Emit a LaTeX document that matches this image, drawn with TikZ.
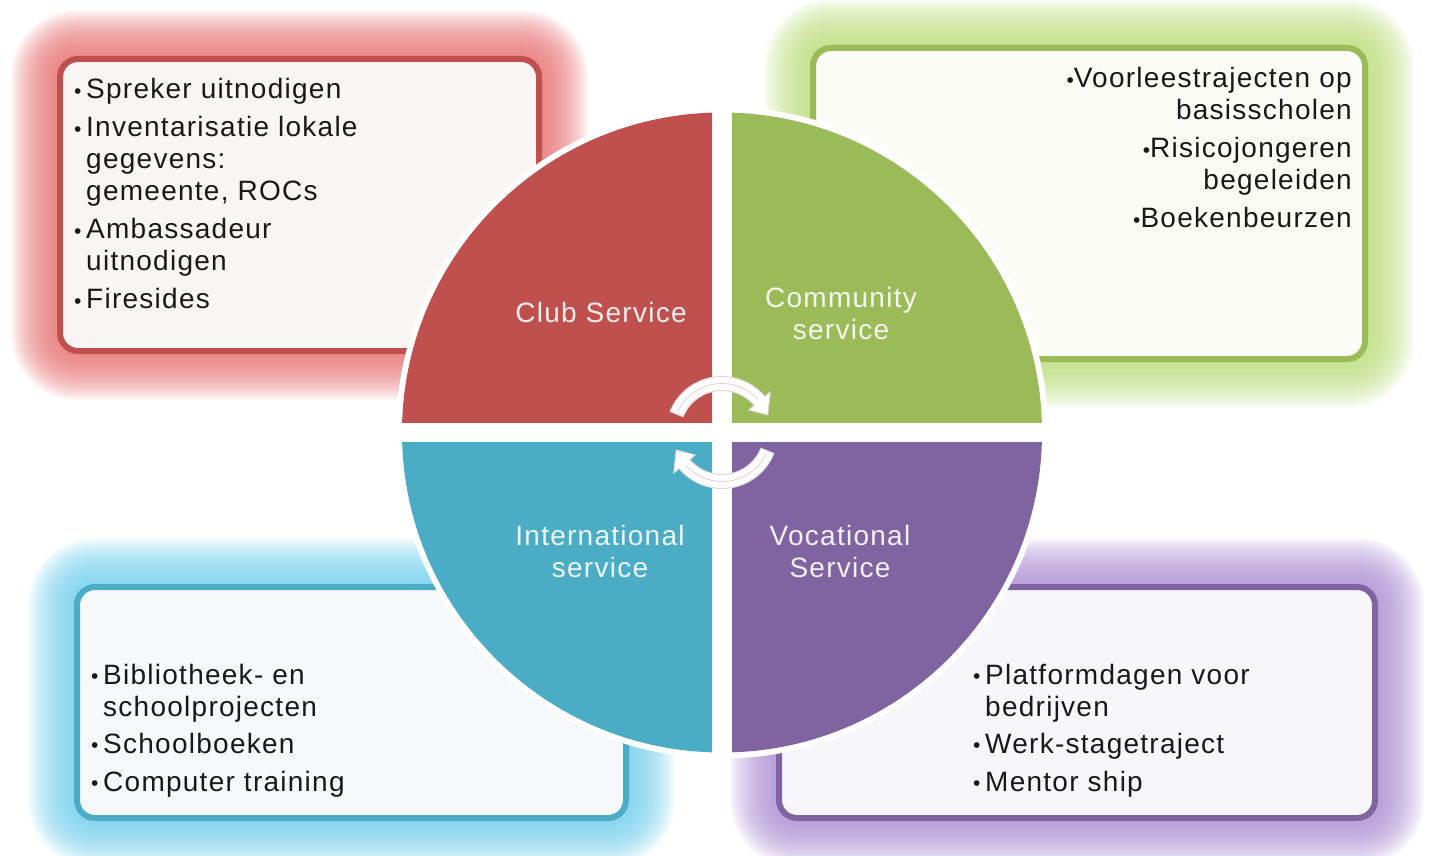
\documentclass[tikz,border=0pt]{standalone}
\usepackage{fontspec}
\setmainfont{Liberation Sans}[LetterSpace=4.5]
\definecolor{redc}{RGB}{192,80,77}
\definecolor{greenc}{RGB}{155,187,89}
\definecolor{cyanc}{RGB}{75,172,198}
\definecolor{purplec}{RGB}{128,100,162}
\definecolor{redglow}{RGB}{230,110,110}
\definecolor{greenglow}{RGB}{185,220,120}
\definecolor{cyanglow}{RGB}{110,205,235}
\definecolor{purpleglow}{RGB}{170,140,210}
\definecolor{redfill}{RGB}{250,245,245}
\definecolor{greenfill}{RGB}{250,252,245}
\definecolor{cyanfill}{RGB}{245,249,252}
\definecolor{purplefill}{RGB}{247,246,250}
\definecolor{arrowedge}{RGB}{225,215,215}
\definecolor{arrowmid}{RGB}{232,205,205}
\definecolor{textc}{RGB}{25,25,25}
\newcommand\bul{\makebox[12pt][l]{\raisebox{0.5pt}{\fontsize{21}{21}\selectfont\textbullet}}}
\newcommand\sbul{\raisebox{0.5pt}{\fontsize{21}{21}\selectfont\textbullet}}
\newcommand\ind{\hspace*{12pt}}
\newcommand\glowbox[5]{%
  \foreach \i in {0,...,23}{%
    \pgfmathsetmacro\dd{46-1.95*\i}%
    \pgfmathsetmacro\rr{20+\dd}%
    \fill[#5, opacity=0.065, rounded corners=\rr pt] (#1-\dd,#2-\dd) rectangle (#3+\dd,#4+\dd);
  }}
\tikzset{
  infobox/.style={draw=#1, line width=6pt, rounded corners=18pt, rectangle, inner sep=0pt},
  itemtext/.style={inner sep=0pt, text=textc, font=\fontsize{28}{32}\selectfont},
  quadtext/.style={inner sep=0pt, text=white, text opacity=0.9, font=\fontsize{28}{32}\selectfont},
  cyclearrow/.style={fill=white, draw=arrowedge, line width=1pt},
}
\begin{document}
\begin{tikzpicture}[x=1pt, y=-1pt]
\useasboundingbox (0,0) rectangle (1429,856);
% glows
\glowbox{57}{56}{542}{354}{redglow}
\glowbox{810}{45}{1368}{362}{greenglow}
\glowbox{74}{584}{629}{821}{cyanglow}
\glowbox{776}{584}{1378}{821}{purpleglow}
% boxes
\node[infobox=redc, fill=redfill, minimum width=479pt, minimum height=292pt] (rbox) at (299.5,205) {};
\node[infobox=greenc, fill=greenfill, minimum width=552pt, minimum height=311pt] (gbox) at (1089,203.5) {};
\node[infobox=cyanc, fill=cyanfill, minimum width=549pt, minimum height=231pt] (cbox) at (351.5,702.5) {};
\node[infobox=purplec, fill=purplefill, minimum width=596pt, minimum height=231pt] (pbox) at (1077,702.5) {};
% circle
\coordinate (c) at (722,432.5);
\fill[white] (c) circle[radius=326pt];
\begin{scope}
  \clip (722-350,432.5-350) rectangle (722-10,432.5-10);
  \fill[redc] (c) circle[radius=320pt];
\end{scope}
\begin{scope}
  \clip (722+10,432.5-350) rectangle (722+350,432.5-10);
  \fill[greenc] (c) circle[radius=320pt];
\end{scope}
\begin{scope}
  \clip (722-350,432.5+10) rectangle (722-10,432.5+350);
  \fill[cyanc] (c) circle[radius=320pt];
\end{scope}
\begin{scope}
  \clip (722+10,432.5+10) rectangle (722+350,432.5+350);
  \fill[purplec] (c) circle[radius=320pt];
\end{scope}
% quadrant labels
\node[quadtext, anchor=base] (lclub) at (601,322) {\begin{tabular}[t]{@{}c@{}}Club Service\end{tabular}};
\node[quadtext, anchor=base] (lcomm) at (841,307) {\begin{tabular}[t]{@{}c@{}}Community\\service\end{tabular}};
\node[quadtext, anchor=base] (lint) at (600,545) {\begin{tabular}[t]{@{}c@{}}International\\service\end{tabular}};
\node[quadtext, anchor=base] (lvoc) at (840,545) {\begin{tabular}[t]{@{}c@{}}Vocational\\Service\end{tabular}};
% box texts
\node[itemtext, anchor=base west] (trbox) at (74,99) {\begin{tabular}[t]{@{}l@{}}
\bul Spreker uitnodigen\\[6pt]
\bul Inventarisatie lokale\\
\ind gegevens:\\
\ind gemeente, ROCs\\[6pt]
\bul Ambassadeur\\
\ind uitnodigen\\[6pt]
\bul Firesides
\end{tabular}};
\node[itemtext, anchor=base east] (tgbox) at (1352,88) {\begin{tabular}[t]{@{}r@{}}
\sbul Voorleestrajecten op\\
basisscholen\\[6pt]
\sbul Risicojongeren\\
begeleiden\\[6pt]
\sbul Boekenbeurzen
\end{tabular}};
\node[itemtext, anchor=base west] (tcbox) at (91,684) {\begin{tabular}[t]{@{}l@{}}
\bul Bibliotheek- en\\
\ind schoolprojecten\\[5pt]
\bul Schoolboeken\\[6pt]
\bul Computer training
\end{tabular}};
\node[itemtext, anchor=base west] (tpbox) at (973,684) {\begin{tabular}[t]{@{}l@{}}
\bul Platformdagen voor\\
\ind bedrijven\\[5pt]
\bul Werk-stagetraject\\[6pt]
\bul Mentor ship
\end{tabular}};
% cycle arrows
\path[cyclearrow] ([shift={(c)}]158:56pt) arc[start angle=158, end angle=40, radius=56pt]
  -- ([shift={(c)}]40:63pt) -- ([shift={(c)}]21:49pt) -- ([shift={(c)}]40:35pt)
  -- ([shift={(c)}]40:42pt) arc[start angle=40, end angle=158, radius=42pt] -- cycle;
\draw[arrowmid, line width=0.8pt] ([shift={(c)}]154:49pt) arc[start angle=154, end angle=42, radius=49pt];
\path[cyclearrow] ([shift={(c)}]-22:56pt) arc[start angle=-22, end angle=-140, radius=56pt]
  -- ([shift={(c)}]-140:63pt) -- ([shift={(c)}]-159:49pt) -- ([shift={(c)}]-140:35pt)
  -- ([shift={(c)}]-140:42pt) arc[start angle=-140, end angle=-22, radius=42pt] -- cycle;
\draw[arrowmid, line width=0.8pt] ([shift={(c)}]-26:49pt) arc[start angle=-26, end angle=-138, radius=49pt];
\end{tikzpicture}
\end{document}
